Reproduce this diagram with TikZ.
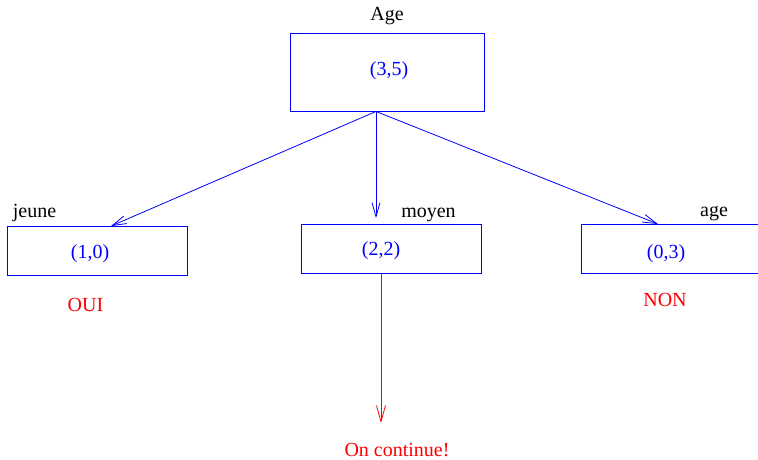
\documentclass[tikz,border=0pt]{standalone}
\usepackage{fontspec}
\setmainfont{Liberation Serif}
\usetikzlibrary{arrows.meta}
\tikzset{
  box/.style={draw=blue, color=blue, line width=0.9pt, minimum width=180pt, minimum height=49pt, inner sep=0pt},
  val/.style={text=blue, inner sep=0pt},
  lbl/.style={text=black, inner sep=0pt},
  verdict/.style={text=red, inner sep=0pt},
  branch/.style={draw=blue, line width=0.8pt, -{Straight Barb[length=14pt,width=8pt]}},
  follow/.style={draw=red, line width=0.8pt, -{Straight Barb[length=16pt,width=9pt]}}
}
\begin{document}
\begin{tikzpicture}[x=1pt,y=-1pt,font=\fontsize{20}{24}\selectfont]
  \clip (0,0) rectangle (758,460);
  % root
    \node[box, minimum width=194pt, minimum height=78pt] (age) at (387,72) {};
    \node[val] (v35) at (389,71) {(3,5)};
    \node[lbl] (tage) at (387,16) {Age};
    \coordinate (fork) at ([xshift=-11pt]age.south);
  % children
    \node[box] (jeune) at (97.5,251) {};
    \node[box] (moyen) at (391.5,249) {};
    \node[box, minimum width=190pt] (vieux) at (676,249) {};
    \node[val] (v10) at (90,254) {(1,0)};
    \node[val] (v22) at (381,251) {(2,2)};
    \node[val] (v03) at (666,254) {(0,3)};
    \node[lbl] (tjeune) at (34.5,213) {jeune};
    \node[lbl] (tmoyen) at (428.5,215) {moyen};
    \node[lbl] (tvieux) at (714,214) {age};
  % answers
    \node[verdict] (oui) at (85.5,305) {OUI};
    \node[verdict] (non) at (665,300) {NON};
    \node[verdict] (suite) at (397,450) {On continue!};
    \coordinate (go) at ([xshift=-10.5pt]moyen.south |- 0,423);
  % arrows
    \draw[branch] (fork) -- ([xshift=13.5pt]jeune.north);
    \draw[branch] (fork) -- ([xshift=-15.5pt,yshift=6pt]moyen.north);
    \draw[branch] (fork) -- ([xshift=-18pt]vieux.north);
    \draw[follow] ([xshift=-10.5pt]moyen.south) -- (go);
\end{tikzpicture}
\end{document}
